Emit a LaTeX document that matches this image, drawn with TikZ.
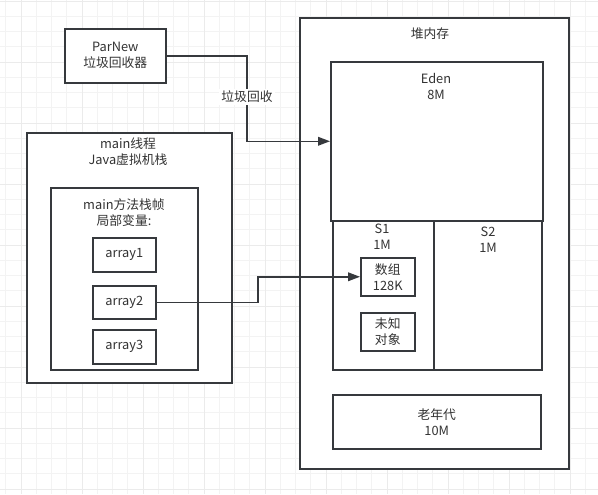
\documentclass[tikz,border=0pt]{standalone}
\usepackage{fontspec}
\setmainfont{Noto Sans CJK SC}
\usetikzlibrary{arrows.meta}
\definecolor{ln}{HTML}{36393D}
\definecolor{tx}{HTML}{333333}
\definecolor{gminor}{HTML}{F3F3F3}
\definecolor{gmajor}{HTML}{EBEBEB}
\tikzset{
  box/.style={draw=ln, line width=1.15pt, fill=white, rectangle, inner sep=0pt, anchor=north west, text=tx, align=center},
  txt/.style={inner sep=0pt, text=tx, align=center},
  conn/.style={draw=ln, line width=1.15pt, -{Triangle[length=9pt,width=6.5pt]}},
}
\begin{document}
\begin{tikzpicture}[x=0.75pt, y=-0.75pt, font=\fontsize{9.6pt}{12pt}\selectfont]
\useasboundingbox (0,0) rectangle (598,494);
% grid
\foreach \i in {0,...,39} {
  \draw[gminor, line width=0.75pt] ({5.75+15.25*\i},0) -- ({5.75+15.25*\i},494);
}
\foreach \i in {0,...,32} {
  \draw[gminor, line width=0.75pt] (0,{1+15.25*\i}) -- (598,{1+15.25*\i});
}
\foreach \i in {0,...,9} {
  \draw[gmajor, line width=0.75pt] ({21+61*\i},0) -- ({21+61*\i},494);
}
\foreach \i in {0,...,8} {
  \draw[gmajor, line width=0.75pt] (0,{1+61*\i}) -- (598,{1+61*\i});
}

% ParNew
\node[box, minimum width=75.75pt, minimum height=40.5pt] (parnew) at (64,28) {ParNew\\垃圾回收器};

% main thread
\node[box, minimum width=153.75pt, minimum height=187.5pt] (mainth) at (26,132) {};
\node[txt] (mainthtxt) at (128,152) {main线程\\Java虚拟机栈};
\node[box, minimum width=110.25pt, minimum height=136.5pt] (frame) at (50,187) {};
\node[txt] (frametxt) at (124,213) {main方法栈帧\\局部变量:};
\node[box, minimum width=47.25pt, minimum height=25.5pt] (arr1) at (92,237) {array1};
\node[box, minimum width=47.25pt, minimum height=24.75pt] (arr2) at (92,285) {array2};
\node[box, minimum width=47.25pt, minimum height=25.5pt] (arr3) at (92,329) {array3};

% heap
\node[box, minimum width=201.75pt, minimum height=338.25pt] (heap) at (299,17) {};
\node[txt] (heaptxt) at (430,34) {堆内存};
\node[box, minimum width=159pt, minimum height=119.25pt] (eden) at (330,61) {};
\node[txt] (edentxt) at (436,86) {Eden\\8M};
\node[box, minimum width=75.75pt, minimum height=111.75pt] (s1) at (332,220) {};
\node[txt] (s1txt) at (382,237) {S1\\1M};
\node[box, minimum width=81pt, minimum height=111.75pt] (s2) at (433,220) {};
\node[txt] (s2txt) at (488,240) {S2\\1M};
\node[box, minimum width=40.5pt, minimum height=28.5pt] (arrobj) at (360,257) {数组\\128K};
\node[box, minimum width=40.5pt, minimum height=28.5pt] (unk) at (360,312) {未知\\对象};
\node[box, minimum width=156pt, minimum height=40.5pt] (old) at (332,394) {老年代\\10M};

% connectors
\coordinate (gc) at (247,97);
\draw[conn] (parnew.east) -| (gc) |- (eden.west);
\node[txt, fill=white, inner sep=1.5pt] (gclabel) at (gc) {垃圾回收};
\coordinate (bend) at (258,290);
\draw[conn] (arr2.east) -| (bend) |- (arrobj.west);
\end{tikzpicture}
\end{document}
